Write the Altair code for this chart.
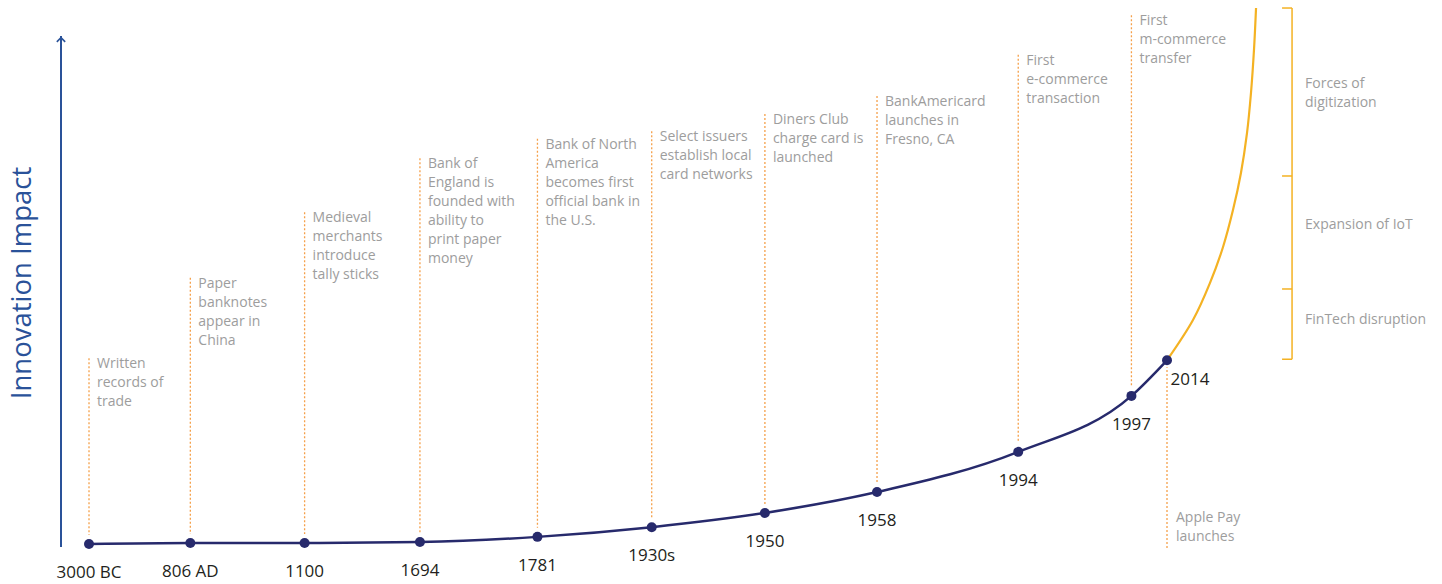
import altair as alt
import pandas as pd

# Milestones along the payments timeline
years = ["3000 BC", "806 AD", "1100", "1694", "1781", "1930s", "1950", "1958", "1994", "1997", "2014"]
events = [
    "Written\nrecords of\ntrade",
    "Paper\nbanknotes\nappear in\nChina",
    "Medieval\nmerchants\nintroduce\ntally sticks",
    "Bank of\nEngland is\nfounded with\nability to\nprint paper\nmoney",
    "Bank of North\nAmerica\nbecomes first\nofficial bank in\nthe U.S.",
    "Select issuers\nestablish local\ncard networks",
    "Diners Club\ncharge card is\nlaunched",
    "BankAmericard\nlaunches in\nFresno, CA",
    "First\ne-commerce\ntransaction",
    "First\nm-commerce\ntransfer",
    "Apple Pay\nlaunches",
]
# position along the timeline (0 = 3000 BC, 100 = 2014)
timeline_pos = [0, 9.4, 20.0, 30.7, 41.6, 52.2, 62.7, 73.1, 86.2, 96.7, 100]
# innovation impact at each milestone
impact = [0, 0.2, 0.2, 0.4, 1.4, 3.3, 6.1, 10.2, 18.1, 29.1, 36.1]
# level of the annotation attached to each milestone
note_level = [36.5, 52.3, 65.2, 75.8, 79.6, 81.1, 84.5, 88.0, 96.1, 103.9, -0.8]

# projected growth beyond 2014
proj_pos = [100, 102.41, 103.99, 105.19, 106.12, 106.86, 107.42, 107.79, 108.07, 108.26]
proj_impact = [36.1, 44.0, 51.3, 58.3, 65.6, 72.9, 80.7, 88.6, 97.1, 105.3]

# forces driving the projection
phases = ["FinTech disruption", "Expansion of IoT", "Forces of\ndigitization"]
phase_bounds = [36.3, 50.1, 72.3, 105.3]
phase_label_level = [44.0, 62.7, 90.4]
bracket_pos = 111.6

# layout: canvas size and how timeline / impact units map onto it
W, H = 1442, 584
X0, X_PER_UNIT = 89, 10.78
Y0, Y_PER_UNIT = 544, 5.09

NAVY = "#272a6c"
GOLD = "#f4b223"
ORANGE = "#f5a04a"
GRAY = "#9d9d9d"
BLUE = "#2a5299"
FONT = "Open Sans"

xs = alt.Scale(domain=[-X0 / X_PER_UNIT, (W - X0) / X_PER_UNIT], range=[0, W], nice=False, zero=False)
ys = alt.Scale(domain=[(Y0 - H) / Y_PER_UNIT, Y0 / Y_PER_UNIT], range=[H, 0], nice=False, zero=False)

ms = pd.DataFrame({
    "year": years, "event": events, "pos": timeline_pos,
    "impact": impact, "note": note_level,
})
proj = pd.DataFrame({"pos": proj_pos, "impact": proj_impact, "order": range(len(proj_pos))})
ph = pd.DataFrame({
    "phase": phases,
    "lo": phase_bounds[:-1],
    "hi": phase_bounds[1:],
    "label": phase_label_level,
    "bx": [bracket_pos] * len(phases),
})
ticks = pd.DataFrame({"level": phase_bounds, "bx": [bracket_pos] * len(phase_bounds)})

X = lambda f: alt.X(f, type="quantitative", scale=xs, axis=None)
Y = lambda f: alt.Y(f, type="quantitative", scale=ys, axis=None)

base = alt.Chart(ms)
is_last = alt.datum.year == "2014"

# vertical axis with arrow head
axis_line = alt.Chart(ms).mark_rule(color=BLUE, strokeWidth=2).encode(
    x=alt.value(61), y=alt.value(547), y2=alt.value(36)
)
arrow = alt.Chart(pd.DataFrame({"a": [0]})).mark_point(
    shape="M -1 0.7 L 0 -0.3 L 1 0.7", filled=False, color=BLUE, strokeWidth=1.6, size=70, opacity=1
).encode(x=alt.value(61), y=alt.value(39))
axis_title = alt.Chart(pd.DataFrame({"t": ["Innovation Impact"]})).mark_text(
    angle=270, font=FONT, fontSize=27.5, color=BLUE, baseline="middle"
).encode(x=alt.value(23), y=alt.value(283), text="t:N")

# dotted leader lines
leaders_up = base.transform_filter(~is_last).mark_rule(
    color=ORANGE, strokeDash=[2, 2], strokeWidth=1.3, y2Offset=-9
).encode(x=X("pos"), y=Y("note"), y2="impact:Q")
leader_down = base.transform_filter(is_last).mark_rule(
    color=ORANGE, strokeDash=[2, 2], strokeWidth=1.3, y2Offset=7
).encode(x=X("pos"), y=Y("note"), y2="impact:Q")

notes_up = base.transform_filter(~is_last).mark_text(
    align="left", baseline="top", lineBreak="\n", font=FONT, fontSize=14,
    lineHeight=19, color=GRAY, dx=8, dy=-1
).encode(x=X("pos"), y=Y("note"), text="event:N")
note_down = base.transform_filter(is_last).mark_text(
    align="left", baseline="bottom", lineBreak="\n", font=FONT, fontSize=14,
    lineHeight=19, color=GRAY, dx=9, dy=-23
).encode(x=X("pos"), y=Y("note"), text="event:N")

# growth curves
projection = alt.Chart(proj).mark_line(color=GOLD, strokeWidth=2.2, interpolate="catmull-rom").encode(
    x=X("pos"), y=Y("impact"), order="order:O"
)
history = base.mark_line(color=NAVY, strokeWidth=2.5, interpolate="monotone").encode(
    x=X("pos"), y=Y("impact")
)
dots = base.mark_circle(color=NAVY, size=100, opacity=1).encode(x=X("pos"), y=Y("impact"))

year_labels = base.transform_filter(~is_last).mark_text(
    font=FONT, fontSize=17, color="#231f20", baseline="middle", dy=29
).encode(x=X("pos"), y=Y("impact"), text="year:N")
year_last = base.transform_filter(is_last).mark_text(
    font=FONT, fontSize=17, color="#231f20", baseline="middle", dx=23, dy=20
).encode(x=X("pos"), y=Y("impact"), text="year:N")

# bracket of driving forces
bracket = alt.Chart(ph).mark_rule(color=GOLD, strokeWidth=1.5).encode(
    x=X("bx"), y=Y("lo"), y2="hi:Q"
)
bracket_ticks = alt.Chart(ticks).mark_rule(color=GOLD, strokeWidth=1.5, x2Offset=-10).encode(
    x=X("bx"), x2="bx:Q", y=Y("level")
)
phase_labels = alt.Chart(ph).mark_text(
    align="left", baseline="middle", lineBreak="\n", font=FONT, fontSize=14,
    lineHeight=19, color=GRAY, dx=13
).encode(x=X("bx"), y=Y("label"), text="phase:N")

chart = alt.layer(
    axis_line, arrow, axis_title,
    leaders_up, leader_down, notes_up, note_down,
    projection, history, dots, year_labels, year_last,
    bracket, bracket_ticks, phase_labels,
).properties(
    width=W, height=H, autosize="none", padding=0, background="white"
).configure_view(stroke=None)

chart.save("out.html", embed_options={"renderer": "svg", "actions": False})
